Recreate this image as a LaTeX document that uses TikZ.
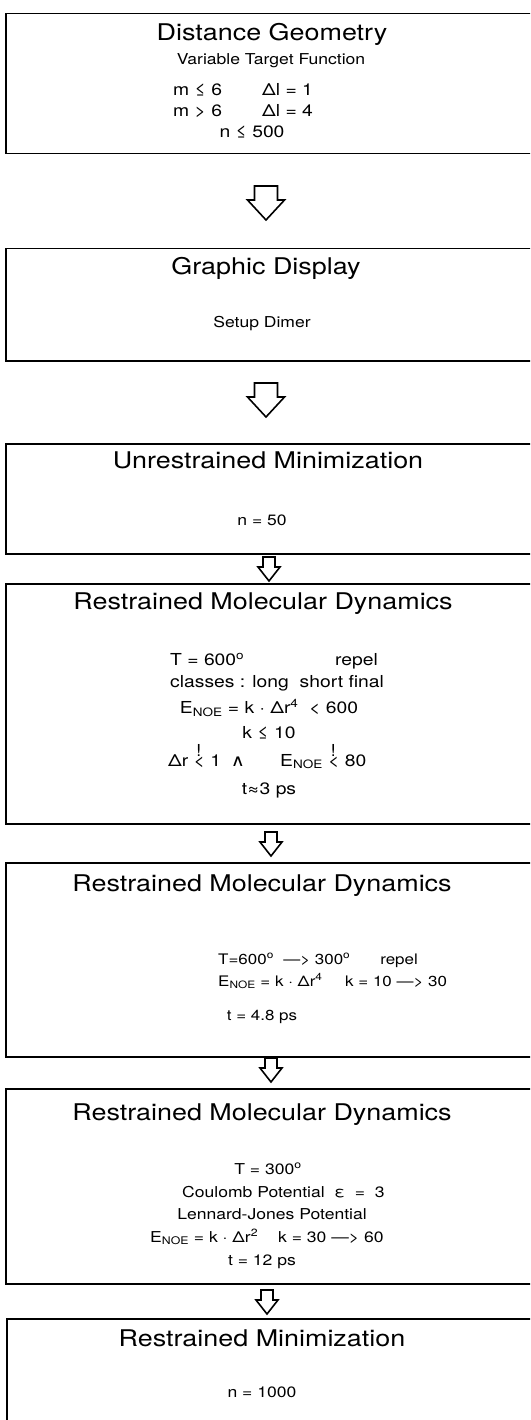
\documentclass[tikz,border=0pt]{standalone}
\usepackage{amsmath}
\usepackage{fontspec}
\setmainfont{TeX Gyre Heros}[FakeStretch=1.17]
\newfontfamily\symfont{DejaVu Sans}[FakeStretch=1.17]
\newcommand{\mustlt}{\makebox[0pt][l]{\hspace{0.15em}\raisebox{0.6em}{!}}<}
\newcommand{\enoe}{E\textsubscript{NOE}}
\newcommand{\dg}{\textsuperscript{o}}

\tikzset{
  stagebox/.style={draw, line width=1.5pt, anchor=north west, minimum width=540pt, inner sep=0pt},
  headline/.style={anchor=base, inner sep=0pt, font=\fontsize{23}{27}\selectfont},
  bodyline/.style={anchor=base, inner sep=0pt, font=\fontsize{15}{18}\selectfont},
  bigline/.style={bodyline, font=\fontsize{16.5}{20}\selectfont},
  smallline/.style={bodyline, font=\fontsize{14.5}{17}\selectfont},
  blockline/.style={draw, line width=1.6pt, line join=miter},
  bigdown/.pic={\draw[blockline] (-11.5,0) -- (11.5,0) -- (11.5,14) -- (18.5,14) -- (0,34) -- (-18.5,14) -- (-11.5,14) -- cycle;},
  smalldown/.pic={\draw[blockline] (-6,0) -- (6,0) -- (6,10) -- (11,10) -- (0,24) -- (-11,10) -- (-6,10) -- cycle;},
}

\begin{document}
\begin{tikzpicture}[x=1pt, y=-1pt]
  \useasboundingbox (0,0) rectangle (530,1420);
  \clip (0,0) rectangle (530,1420);
  % distance geometry
  \node[stagebox, minimum height=140pt] (geom) at (5,13) {};
  \node[headline] (geomT) at (272,41) {Distance Geometry};
  \node[bodyline] (geomA) at (271,65) {Variable Target Function};
  \node[bigline, anchor=base west] (geomB) at (173,95.5) {m ≤ 6};
  \node[bigline, anchor=base west] (geomC) at (262,95.5) {Δl = 1};
  \node[bigline, anchor=base west] (geomD) at (173,117) {m > 6};
  \node[bigline, anchor=base west] (geomE) at (262,117) {Δl = 4};
  \node[bigline] (geomF) at (252,137.5) {n ≤ 500};
  \pic at (266,186) {bigdown};
  % graphic display
  \node[stagebox, minimum height=112pt] (display) at (5,248) {};
  \node[headline] (displayT) at (266,275) {Graphic Display};
  \node[bodyline] (displayA) at (262,327.5) {Setup Dimer};
  \pic at (266,383) {bigdown};
  % unrestrained minimization
  \node[stagebox, minimum height=110pt] (unmin) at (5,443) {};
  \node[headline] (unminT) at (268,468) {Unrestrained Minimization};
  \node[bodyline] (unminA) at (262,525.5) {n = 50};
  \pic at (269,557) {smalldown};
  % restrained MD, hot
  \node[stagebox, minimum height=240pt] (rmdA) at (5,583) {};
  \node[headline] (rmdAT) at (263,609) {Restrained Molecular Dynamics};
  \node[bigline, anchor=base west] (rmdA1) at (170,665.5) {T = 600\dg};
  \node[bigline, anchor=base east] (rmdA2) at (378,665.5) {repel};
  \node[bigline, anchor=base west] (rmdA3) at (170,687.5) {classes : long\ \ short final};
  \node[bigline] (rmdA4) at (269,713.5) {\enoe{} = k · Δr\textsuperscript{4}\ \ < 600};
  \node[bigline] (rmdA5) at (269,738.5) {k ≤ 10};
  \node[bigline, anchor=base west] (rmdA6) at (168,766) {Δr \mustlt{} 1};
  \node[bigline] (rmdA7) at (238,766) {\symfont ∧};
  \node[bigline, anchor=base west] (rmdA8) at (280,766) {\enoe{} \mustlt{} 80};
  \node[bigline] (rmdA9) at (269,794) {t≈3 ps};
  \pic at (271,832) {smalldown};
  % restrained MD, cooling
  \node[stagebox, minimum height=194pt] (rmdB) at (5,862) {};
  \node[headline] (rmdBT) at (262,891) {Restrained Molecular Dynamics};
  \node[smallline, anchor=base west] (rmdB1) at (218,964) {T=600\dg\ \ ---{}> 300\dg};
  \node[smallline, anchor=base east] (rmdB2) at (418,964) {repel};
  \node[smallline, anchor=base west] (rmdB3) at (218,986) {\enoe{} = k · Δr\textsuperscript{4}};
  \node[smallline, anchor=base west] (rmdB4) at (345,986) {k = 10 ---{}> 30};
  \node[smallline] (rmdB5) at (262,1020.5) {t = 4.8 ps};
  \pic at (271,1058) {smalldown};
  % restrained MD, 300 K
  \node[stagebox, minimum height=195pt] (rmdC) at (5,1088) {};
  \node[headline] (rmdCT) at (262,1120) {Restrained Molecular Dynamics};
  \node[bodyline] (rmdC1) at (268,1174) {T = 300\dg};
  \node[bodyline, anchor=base west] (rmdC2) at (182,1197) {Coulomb Potential\ \ ε\ \ =\ \ 3};
  \node[bodyline] (rmdC3) at (272,1219) {Lennard-Jones Potential};
  \node[bodyline, anchor=base west] (rmdC4) at (150,1242) {\enoe{} = k · Δr\textsuperscript{2}};
  \node[bodyline, anchor=base west] (rmdC5) at (278,1242) {k = 30 ---{}> 60};
  \node[bodyline] (rmdC6) at (262,1265) {t = 12 ps};
  \pic at (267,1290) {smalldown};
  % restrained minimization
  \node[stagebox, minimum height=140pt] (resmin) at (6,1318) {};
  \node[headline] (resminT) at (262,1346) {Restrained Minimization};
  \node[bodyline] (resminA) at (262,1397.5) {n = 1000};
\end{tikzpicture}
\end{document}
